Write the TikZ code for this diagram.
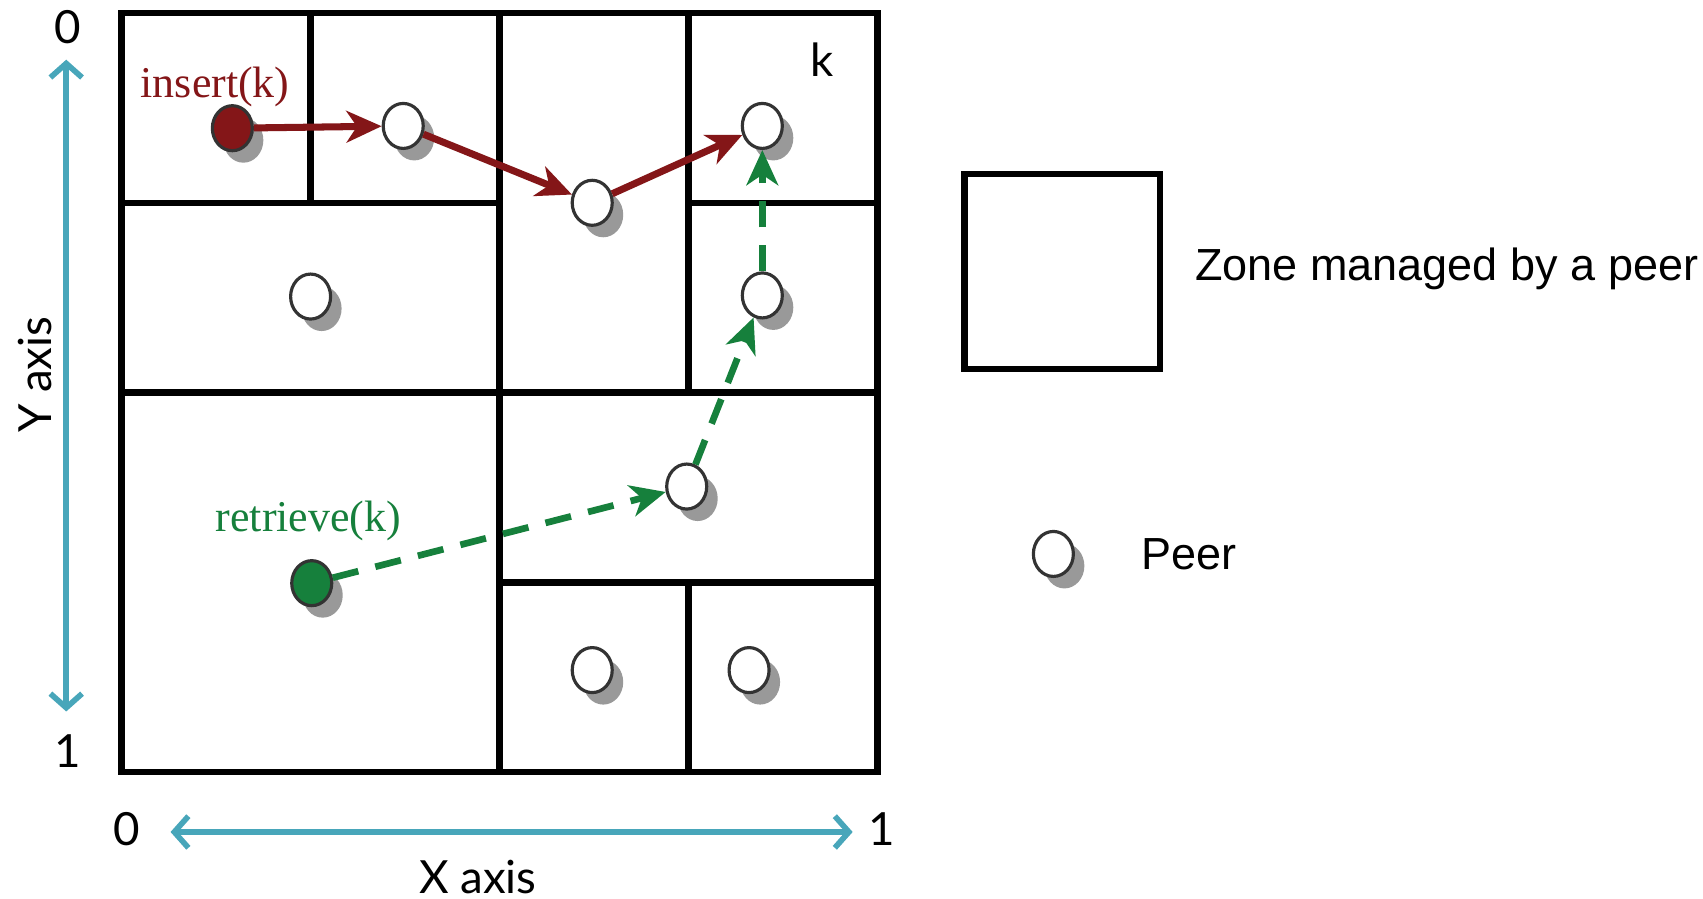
\documentclass[tikz,border=0pt]{standalone}
\usepackage{fontspec}
\setmainfont{Liberation Sans}
\newfontfamily\gillfont{Lato}
\newfontfamily\timesfont{Liberation Serif}
\usetikzlibrary{arrows.meta,shapes.geometric,shadows}
\definecolor{insertred}{RGB}{132,22,24}
\definecolor{retrievegreen}{RGB}{22,128,60}
\definecolor{axisblue}{RGB}{72,166,186}

\begin{document}
\begin{tikzpicture}[ >={Stealth[length=10pt,width=9pt,inset=3pt]}, x=1.89cm, y=-1.898cm,
  zone/.style={line width=1.8pt},
  peer/.style={ellipse, draw=black!80, line width=0.9pt, fill=white, minimum width=0.4cm,
    minimum height=0.45cm, inner sep=0pt,
    drop shadow={shadow xshift=0.11cm, shadow yshift=-0.12cm, fill=black!40, opacity=1}},
  insertpath/.style={->, insertred, line width=2pt},
  retrievepath/.style={->, retrievegreen, line width=1.9pt, dash pattern=on 7.5pt off 5pt},
  axisline/.style={{Straight Barb[length=4pt,width=9pt]}-{Straight Barb[length=4pt,width=9pt]},
    axisblue, line width=1.6pt},
  gill/.style={font=\gillfont\fontsize{13}{15}\selectfont, inner sep=0pt},
  serif/.style={font=\timesfont\fontsize{12.5}{15}\selectfont, inner sep=0pt},
  legend/.style={font=\fontsize{12.8}{15}\selectfont, inner sep=0pt, anchor=west} ]

\useasboundingbox[fill=white] (-0.6434,-0.0685) rectangle (8.3672,4.668);

\draw[zone] (0,0) rectangle (1,1);
\draw[zone] (1,0) rectangle (2,1);
\draw[zone] (0,1) rectangle (2,2);
\draw[zone] (2,0) rectangle (3,2);
\draw[zone] (3,0) rectangle (4,1);
\draw[zone] (3,1) rectangle (4,2);
\draw[zone] (0,2) rectangle (2,4);
\draw[zone] (2,2) rectangle (4,3);
\draw[zone] (2,3) rectangle (3,4);
\draw[zone] (3,3) rectangle (4,4);

\node[peer, fill=insertred] (src) at (0.586,0.607) {};
\node[peer] (p1) at (1.49,0.595) {};
\node[peer] (p2) at (2.49,1.0) {};
\node[peer] (pk) at (3.39,0.595) {};
\node[peer] (p3) at (1.0,1.494) {};
\node[peer] (p4) at (3.39,1.488) {};
\node[peer] (p5) at (2.99,2.495) {};
\node[peer, fill=retrievegreen] (dst) at (1.006,3.004) {};
\node[peer] (p6) at (2.49,3.462) {};
\node[peer] (p7) at (3.32,3.462) {};

\node[serif, insertred] (ins) at (0.495,0.389) {insert(k)};
\node[serif, retrievegreen] (ret) at (0.988,2.678) {retrieve(k)};
\node[gill] (klbl) at (3.706,0.246) {k};

\draw[insertpath] (src) -- (p1);
\draw[insertpath] (p1) -- (p2);
\draw[insertpath] (p2) -- (pk);

\draw[retrievepath] (dst) -- (p5);
\draw[retrievepath] (p5) -- (p4);
\draw[retrievepath] (p4) -- (pk);

\node[gill] (y0) at (-0.287,0.075) {0};
\node[gill] (y1) at (-0.287,3.891) {1};
\coordinate (ytop) at (-0.293,0.246);
\coordinate (ybot) at (-0.293,3.68);
\draw[axisline] (ytop) -- (ybot);
\node[gill, rotate=90] (ylbl) at (-0.459,1.906) {Y axis};

\node[gill] (x0) at (0.029,4.298) {0};
\node[gill] (x1) at (4.024,4.298) {1};
\coordinate (xleft) at (0.259,4.315);
\coordinate (xright) at (3.868,4.315);
\draw[axisline] (xleft) -- (xright);
\node[gill] (xlbl) at (1.885,4.55) {X axis};

\draw[zone] (4.46,0.847) rectangle (5.494,1.877);
\node[legend] (zonetxt) at (5.678,1.35) {Zone managed by a peer};
\node[peer] (lpeer) at (4.93,2.85) {};
\node[legend] (peertxt) at (5.39,2.85) {Peer};

\end{tikzpicture}
\end{document}
